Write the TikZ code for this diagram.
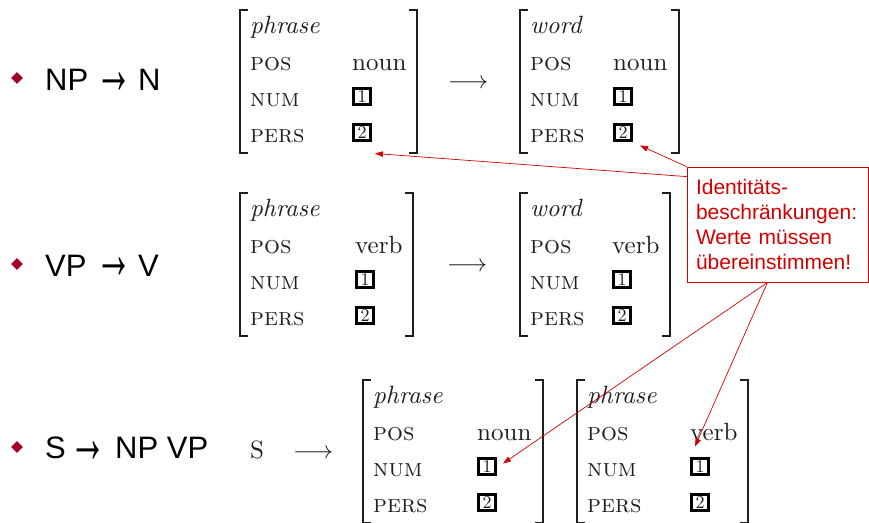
\documentclass[tikz,border=0pt]{standalone}
\usepackage{fontspec}
\newfontfamily\arial{Liberation Sans}
\newfontfamily\lmten{lmroman10-regular.otf}[ItalicFont=lmroman10-italic.otf, SmallCapsFont=lmromancaps10-regular.otf]
\usetikzlibrary{arrows.meta,calc,shapes.geometric}
\definecolor{callred}{RGB}{210,0,0}
\definecolor{bulred}{RGB}{160,0,40}
\definecolor{avmink}{RGB}{30,30,30}
\tikzset{
  avmtxt/.style={inner sep=0pt, anchor=base west, text=avmink, font=\lmten\fontsize{25}{30}\selectfont},
  bracket/.style={draw=avmink, line width=1.4pt},
  numbox/.style={draw=black, line width=2.6pt, minimum width=17.5pt, minimum height=15.5pt, inner sep=0pt, text=avmink, font=\lmten\fontsize{18}{18}\selectfont},
  bullet/.style={diamond, fill=bulred, shape aspect=1, minimum size=12pt, inner sep=0pt},
  bultxt/.style={inner sep=0pt, anchor=base west, font=\arial\fontsize{31}{36}\selectfont},
  bularr/.style={inner sep=0pt, anchor=base, font=\arial\fontsize{31}{36}\selectfont, xscale=1.2, yscale=2.35, transform shape},
  callout/.style={draw=callred, line width=0.8pt, text=callred, font=\arial\fontsize{21}{24.7}\selectfont, align=left, minimum width=181pt, minimum height=115pt, text width=163pt, inner xsep=9pt, inner ysep=0pt},
  callarrow/.style={draw=callred, line width=0.7pt, -{Triangle[length=8pt,width=5.5pt]}},
}
% #1 name, #2 left, #3 top, #4 right, #5 value x, #6 type, #7 pos value
\newcommand\myavm[7]{%
  \draw[bracket] (#2+8,#3) -- (#2,#3) -- (#2,#3+143) -- (#2+8,#3+143);
  \draw[bracket] (#4-8,#3) -- (#4,#3) -- (#4,#3+143) -- (#4-8,#3+143);
  \node[avmtxt] (#1t) at (#2+10,#3+23) {\itshape #6};
  \node[avmtxt] (#1p) at (#2+10,#3+60) {\scshape pos};
  \node[avmtxt] (#1n) at (#2+10,#3+96.5) {\scshape num};
  \node[avmtxt] (#1r) at (#2+10,#3+132) {\scshape pers};
  \node[avmtxt] (#1v) at (#5,#3+60) {#7};
  \node[numbox] (#1b1) at (#5+10,#3+86.5) {1};
  \node[numbox] (#1b2) at (#5+10,#3+122.5) {2};
}
\begin{document}
\begin{tikzpicture}[x=1pt,y=-1pt]
\useasboundingbox (0,0) rectangle (869,522);
% bullets
\node[bullet] (d1) at (17,78) {};
\node[bultxt] (r1a) at (45,90) {NP};
\node[bularr] (r1b) at (114,93) {→};
\node[bultxt] (r1c) at (138,90) {N};
\node[bullet] (d2) at (17,264) {};
\node[bultxt] (r2a) at (45,276) {VP};
\node[bularr] (r2b) at (114,278) {→};
\node[bultxt] (r2c) at (138,276) {V};
\node[bullet] (d3) at (17,447) {};
\node[bultxt] (r3a) at (45,458) {S};
\node[bularr] (r3b) at (88.5,462) {→};
\node[bultxt] (r3c) at (115,458) {NP VP};
% AVMs
\myavm{a1}{240}{10}{417}{352}{phrase}{noun}
\myavm{a2}{520}{10}{679}{613}{word}{noun}
\myavm{a3}{240}{193}{413}{355}{phrase}{verb}
\myavm{a4}{520}{193}{670}{612}{word}{verb}
\myavm{a5}{363}{380}{543}{477}{phrase}{noun}
\myavm{a6}{577}{380}{748}{690}{phrase}{verb}
% rule arrows
\node[avmtxt] (ar1) at (448,88) {$\longrightarrow$};
\node[avmtxt] (ar2) at (447,271) {$\longrightarrow$};
\node[avmtxt] (s3) at (250,458) {S};
\node[avmtxt] (ar3) at (293,458) {$\longrightarrow$};
% callout
\node[callout] (call) at (777.5,224.5) {Identitäts-\\beschränkungen:\\Werte müssen\\übereinstimmen!};
\coordinate (e1) at ($(a1b2)+(13,21)$);
\coordinate (e2) at ($(a2b2)+(17,13)$);
\coordinate (e3) at ($(a5b1)+(16,-3)$);
\coordinate (e4) at ($(a6b1)+(-5,-20)$);
\coordinate (s1) at ($(call.north west)+(0,10)$);
\coordinate (s34) at ($(call.south)+(-10,0)$);
\draw[callarrow] (s1) -- (e1);
\draw[callarrow] (call.north west) -- (e2);
\draw[callarrow] (s34) -- (e3);
\draw[callarrow] (s34) -- (e4);
\end{tikzpicture}
\end{document}
